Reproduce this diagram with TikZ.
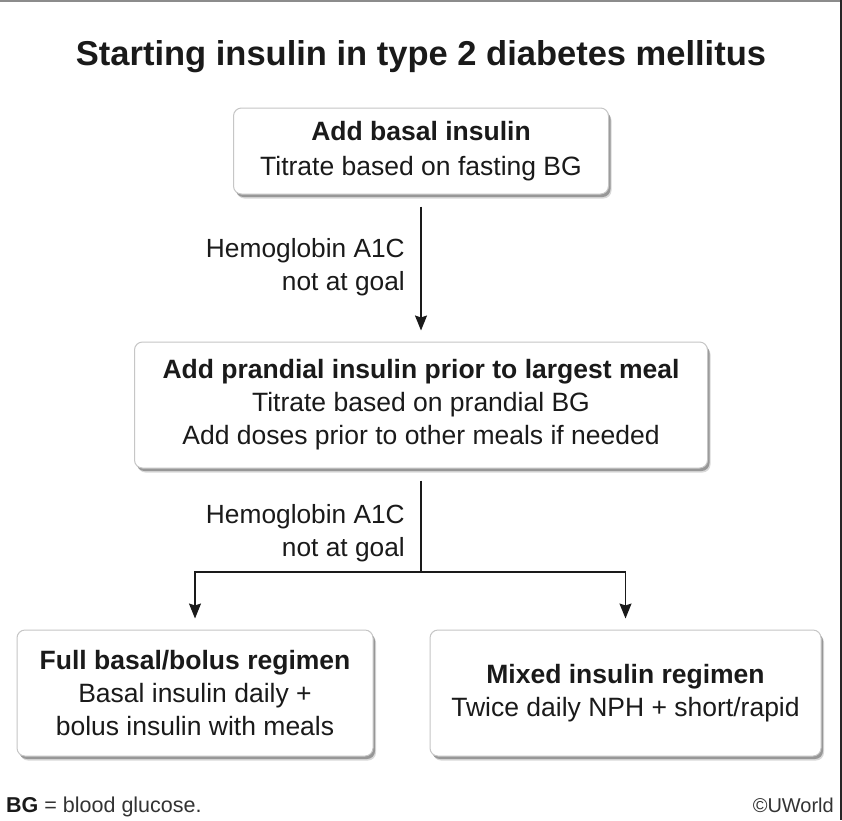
\documentclass[tikz,border=0pt]{standalone}
\usepackage{fontspec}
\setmainfont{Liberation Sans}
\usetikzlibrary{arrows.meta,shadows}
\definecolor{txt}{HTML}{1A1A1A}
\definecolor{boxline}{HTML}{C6C6C6}
\definecolor{foot}{HTML}{333333}
\begin{document}
\begin{tikzpicture}[x=1pt,y=-1pt,
  box/.style={draw=boxline, line width=1pt, rounded corners=8pt, fill=white,
    inner sep=0pt, align=center, text=txt,
    font=\fontsize{26.5}{33}\selectfont,
    drop shadow={shadow xshift=3pt, shadow yshift=-4.5pt, fill=black, opacity=0.15},
    drop shadow={shadow xshift=2pt, shadow yshift=-3pt, fill=black, opacity=0.3}},
  lab/.style={inner sep=0pt, align=right, text=txt, font=\fontsize{26.3}{33.5}\selectfont},
  conn/.style={line width=1.5pt, draw=txt},
  arr/.style={conn, -{Stealth[length=15pt, width=12pt, inset=2pt]}},
  titlestyle/.style={inner sep=0pt, text=txt, font=\bfseries\fontsize{34.5}{40}\selectfont}
]
\useasboundingbox (0,0) rectangle (842,820);
\fill[white] (0,0) rectangle (842,820);
\draw[black!45, line width=2pt] (0,1) -- (842,1);
\fill[black!85] (839.5,0) rectangle (842,820);

\node[titlestyle, anchor=base] (title) at (421,65) {Starting insulin in type 2 diabetes mellitus};

\node[box, minimum width=375pt, minimum height=86pt] (b1) at (421,151)
  {\textbf{Add basal insulin}\\[2pt]Titrate based on fasting BG};
\node[box, minimum width=573pt, minimum height=126pt] (b2) at (421,405)
  {\textbf{Add prandial insulin prior to largest meal}\\Titrate based on prandial BG\\Add doses prior to other meals if needed};
\node[box, minimum width=356pt, minimum height=126pt] (b3) at (195,693)
  {\textbf{Full basal/bolus regimen}\\Basal insulin daily +\\bolus insulin with meals};
\node[box, minimum width=391pt, minimum height=126pt] (b4) at (625.5,693)
  {\textbf{Mixed insulin regimen}\\Twice daily NPH + short/rapid};

\node[lab, anchor=east] (l1) at (405,267) {Hemoglobin A1C\\not at goal};
\node[lab, anchor=east] (l2) at (405,533) {Hemoglobin A1C\\not at goal};

\draw[arr, shorten <=12pt, shorten >=11pt] (b1) -- (b2);
\coordinate (split) at (421,572);
\draw[conn, shorten <=12pt] (b2) -- (split);
\draw[arr, shorten >=11pt] (split) -| (b3);
\draw[arr, shorten >=11pt] (split) -| (b4);

\node[anchor=base west, inner sep=0pt, text=foot, font=\fontsize{21.5}{24}\selectfont] (fn) at (6,812.5)
  {\textcolor{txt}{\textbf{BG}} = blood glucose.};
\node[anchor=base east, inner sep=0pt, text=foot, font=\fontsize{20}{24}\selectfont] (cr) at (834,812.5) {©UWorld};
\end{tikzpicture}
\end{document}
